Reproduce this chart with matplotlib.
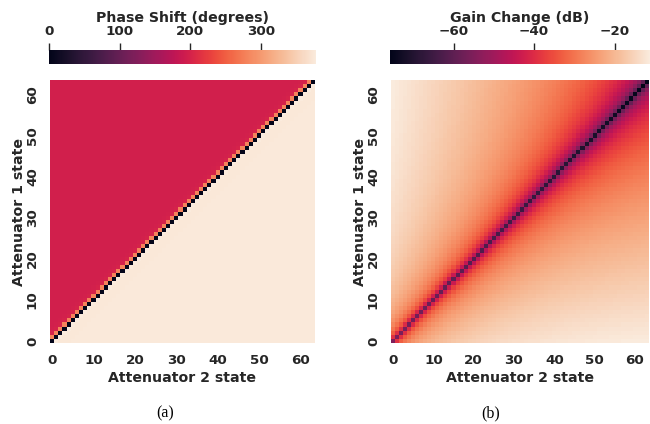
import numpy as np
import matplotlib
matplotlib.use('Agg')
import matplotlib.pyplot as plt
import seaborn as sns

# attenuator states (both attenuators)
states = np.arange(64)

# phase shift (deg) vs. state offset k = att1 - att2
phase_on_diag = 0.0
phase_above = [280.0, 200.0, 197.0, 196.0]   # k = 1..4
phase_upper = 195.0                          # k > 4
phase_below = [377.0, 374.5, 374.0, 374.5]   # k = -1..-4
phase_lower = 376.0                          # k < -4

# gain change (dB) vs. |att1 - att2| at the lowest common state
gain_vs_offset = [
    -55.0, -39.0, -33.1, -29.8, -27.4, -25.6, -24.2, -23.0, -22.0, -21.2,
    -20.4, -19.7, -19.1, -18.6, -18.1, -17.6, -17.2, -16.9, -16.5, -16.2,
    -15.9, -15.6, -15.3, -15.1, -14.9, -14.6, -14.4, -14.2, -14.1, -13.9,
    -13.7, -13.6, -13.5, -13.3, -13.2, -13.1, -13.0, -12.9, -12.7, -12.6,
    -12.5, -12.4, -12.4, -12.3, -12.2, -12.1, -12.0, -12.0, -11.9, -11.8,
    -11.8, -11.7, -11.7, -11.6, -11.6, -11.5, -11.5, -11.4, -11.4, -11.3,
    -11.3, -11.3, -11.2, -11.2]
step_db = 0.33  # extra loss per common state

# build the 64x64 grids (rows = attenuator 1, cols = attenuator 2)
a1, a2 = np.meshgrid(states, states, indexing='ij')
k = a1 - a2
phase = np.full(k.shape, phase_upper)
phase[k < 0] = phase_lower
for n, v in enumerate(phase_above):
    phase[k == n + 1] = v
for n, v in enumerate(phase_below):
    phase[k == -(n + 1)] = v
phase[k == 0] = phase_on_diag

gain = np.array(gain_vs_offset)[np.abs(k)] - step_db * np.minimum(a1, a2)

sns.set_theme(style='white')
plt.rcParams['font.family'] = ['DejaVu Sans']
plt.rcParams['font.weight'] = 'bold'
plt.rcParams['axes.labelweight'] = 'bold'
txt = '#262626'

fig = plt.figure(figsize=(6.5, 4.24), dpi=100)
W, H = 650.0, 424.0

def box(x0, y0, x1, y1):
    return [x0 / W, 1 - y1 / H, (x1 - x0) / W, (y1 - y0) / H]

panels = [
    (phase, 'Phase Shift (degrees)', [0, 100, 200, 300], 0, 378, 50, 315, 165, '(a)'),
    (gain, 'Gain Change (dB)', [-60, -40, -20], None, None, 391, 649, 491, '(b)'),
]

for data, clabel, cticks, vmin, vmax, x0, x1, xc, cap in panels:
    ax = fig.add_axes(box(x0, 80, x1, 343))
    cax = fig.add_axes(box(x0 - 1, 50, x1 + 1, 64))
    sns.heatmap(data, ax=ax, cbar_ax=cax, cmap='rocket', vmin=vmin, vmax=vmax,
                xticklabels=10, yticklabels=10,
                cbar_kws={'orientation': 'horizontal'})
    ax.invert_yaxis()
    ax.set_xlabel('Attenuator 2 state', fontsize=10.2, fontweight='bold', color=txt, labelpad=3)
    ax.set_ylabel('Attenuator 1 state', fontsize=10.2, fontweight='bold', color=txt, labelpad=0)
    ax.tick_params(axis='x', length=0, pad=8, labelsize=9.7, labelcolor=txt)
    ax.tick_params(axis='y', length=0, pad=8, labelsize=9.7, labelcolor=txt)
    plt.setp(ax.get_xticklabels(), rotation=0, fontweight='bold')
    plt.setp(ax.get_yticklabels(), rotation=90, va='center', fontweight='bold')

    cax.xaxis.set_ticks_position('top')
    cax.xaxis.set_label_position('top')
    cax.set_xticks(cticks)
    cax.tick_params(axis='x', length=5, width=1, color=txt, pad=3.5, labelsize=9.7, labelcolor=txt)
    plt.setp(cax.get_xticklabels(), fontweight='bold')
    cax.set_xlabel(clabel, fontsize=10.2, fontweight='bold', color=txt, labelpad=2)

    fig.text(xc / W, 1 - 413 / H, cap, ha='center', va='center',
             fontsize=11.5, fontweight='normal', family='Liberation Serif', color='black')

fig.savefig('out.png', dpi=100)
